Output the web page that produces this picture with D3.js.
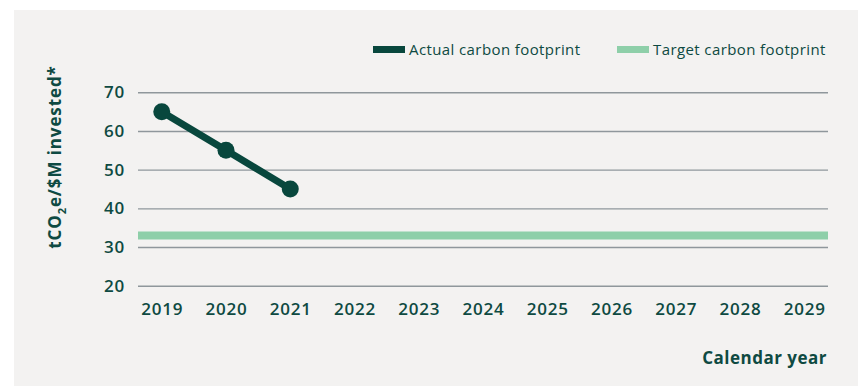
<!DOCTYPE html>
<html>
<head>
<meta charset="utf-8">
<script src="https://cdn.jsdelivr.net/npm/d3@7"></script>
<style>
  html, body { margin: 0; padding: 0; background: #ffffff; }
  svg { display: block; }
  text { font-family: "Open Sans", Lato, sans-serif; fill: #0e4a42; }
</style>
</head>
<body>
<svg id="chart" width="858" height="386"></svg>
<script>
// Carbon footprint per $M invested, by calendar year
const years = ["2019", "2020", "2021", "2022", "2023", "2024", "2025", "2026", "2027", "2028", "2029"];
const actualYears = ["2019", "2020", "2021"];
const actualValues = [65, 55, 45];
const targetValue = 33;
const yTicks = [20, 30, 40, 50, 60, 70];
const legendLabels = ["Actual carbon footprint", "Target carbon footprint"];

const darkGreen = "#08473d";
const lightGreen = "#8ecfa9";
const gridColor = "#8f979c";
const textColor = "#0e4a42";

const svg = d3.select("#chart");

// panel background
svg.append("rect")
  .attr("x", 14).attr("y", 10)
  .attr("width", 844).attr("height", 376)
  .attr("fill", "#f3f2f1");

const plotLeft = 138, plotRight = 828, plotTop = 92.3, plotBottom = 285.7;

const x = d3.scalePoint().domain(years).range([plotLeft, plotRight]).padding(0.37);
const y = d3.scaleLinear().domain([20, 70]).range([plotBottom, plotTop]);

function styleTickText(sel) {
  sel.attr("font-size", 17).attr("font-weight", 600)
    .style("font-family", "'Open Sans', Lato, sans-serif")
    .style("letter-spacing", "0.8px")
    .attr("fill", textColor);
}

// horizontal grid lines with value labels
const yAxis = svg.append("g")
  .attr("transform", `translate(${plotLeft},0)`)
  .call(d3.axisLeft(y).tickValues(yTicks).tickSize(-(plotRight - plotLeft)).tickPadding(13).tickFormat(d3.format("d")));
yAxis.select(".domain").remove();
yAxis.selectAll(".tick line").attr("stroke", gridColor).attr("stroke-width", 1.4);
styleTickText(yAxis.selectAll(".tick text"));

// year labels
const xAxis = svg.append("g")
  .attr("transform", `translate(0,${plotBottom})`)
  .call(d3.axisBottom(x).tickSize(0).tickPadding(17));
xAxis.select(".domain").remove();
styleTickText(xAxis.selectAll(".tick text"));

// target line across the full plot
svg.append("line")
  .attr("x1", plotLeft).attr("x2", plotRight)
  .attr("y1", y(targetValue)).attr("y2", y(targetValue))
  .attr("stroke", lightGreen).attr("stroke-width", 8);

// actual footprint line and markers
const pts = actualYears.map((yr, i) => ({ yr, v: actualValues[i] }));
svg.append("path")
  .datum(pts)
  .attr("fill", "none")
  .attr("stroke", darkGreen)
  .attr("stroke-width", 7)
  .attr("d", d3.line().x(d => x(d.yr)).y(d => y(d.v)));
svg.selectAll("circle.pt")
  .data(pts).enter().append("circle")
  .attr("class", "pt")
  .attr("cx", d => x(d.yr)).attr("cy", d => y(d.v))
  .attr("r", 8.5).attr("fill", darkGreen);

// legend
const legend = [
  { label: legendLabels[0], color: darkGreen, x: 373 },
  { label: legendLabels[1], color: lightGreen, x: 617 }
];
legend.forEach(l => {
  svg.append("rect").attr("x", l.x).attr("y", 46).attr("width", 32).attr("height", 7).attr("fill", l.color);
  svg.append("text").attr("x", l.x + 36).attr("y", 55)
    .attr("font-size", 15).attr("font-weight", 400)
    .style("letter-spacing", "0.4px")
    .text(l.label);
});

// y axis title with subscript
const yTitle = svg.append("text")
  .attr("transform", "translate(61,157) rotate(-90)")
  .attr("text-anchor", "middle")
  .attr("font-size", 17).attr("font-weight", 700)
  .style("letter-spacing", "0.9px");
yTitle.append("tspan").text("tCO");
yTitle.append("tspan").attr("font-size", 11).attr("dy", 5).text("2");
yTitle.append("tspan").attr("dy", -5).text("e/$M invested*");

// x axis title
svg.append("text")
  .attr("x", 827).attr("y", 364)
  .attr("text-anchor", "end")
  .attr("font-size", 17).attr("font-weight", 700)
  .style("letter-spacing", "0.5px")
  .text("Calendar year");
</script>
</body>
</html>
